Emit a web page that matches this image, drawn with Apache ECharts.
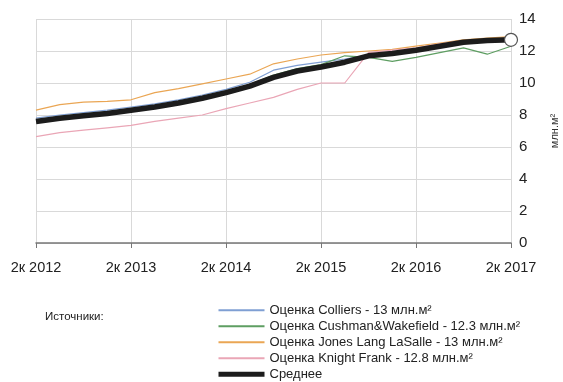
<!DOCTYPE html>
<html>
<head>
<meta charset="utf-8">
<script src="https://cdn.jsdelivr.net/npm/echarts@6/dist/echarts.min.js"></script>
<style>
  html, body { margin: 0; padding: 0; background: #fff; }
  #chart { width: 563px; height: 382px; }
</style>
</head>
<body>
<div id="chart"></div>
<script>
// Quarterly periods, 2Q2012 – 2Q2017
const quarters = [
  '2к 2012', '3к 2012', '4к 2012', '1к 2013', '2к 2013', '3к 2013', '4к 2013',
  '1к 2014', '2к 2014', '3к 2014', '4к 2014', '1к 2015', '2к 2015', '3к 2015',
  '4к 2015', '1к 2016', '2к 2016', '3к 2016', '4к 2016', '1к 2017', '2к 2017'
];

// Estimates of office stock, million m²
const colliers = [7.8, 8.0, 8.15, 8.3, 8.5, 8.7, 8.95, 9.25, 9.6, 10.05, 10.8, 11.1, 11.3, 11.5, 11.75, 11.95, 12.1, 12.35, 12.6, 12.75, 12.85];
const cushman = [7.7, 7.9, 8.05, 8.2, 8.4, 8.6, 8.85, 9.15, 9.5, 9.9, 10.5, 10.9, 11.15, 11.7, 11.6, 11.35, 11.6, 11.9, 12.2, 11.8, 12.3];
const jll = [8.3, 8.65, 8.8, 8.85, 8.95, 9.4, 9.65, 9.95, 10.25, 10.55, 11.2, 11.5, 11.75, 11.9, 12.0, 12.1, 12.3, 12.5, 12.7, 12.8, 12.9];
const knightFrank = [6.65, 6.9, 7.05, 7.2, 7.35, 7.6, 7.8, 8.0, 8.4, 8.75, 9.1, 9.6, 10.0, 10.0, 11.9, 12.05, 12.2, 12.45, 12.65, 12.75, 12.8];
const average = [7.6, 7.8, 7.95, 8.1, 8.3, 8.5, 8.75, 9.05, 9.4, 9.8, 10.35, 10.75, 11.0, 11.3, 11.7, 11.85, 12.05, 12.3, 12.55, 12.65, 12.7];

const seriesNames = [
  'Оценка Colliers - 13 млн.м²',
  'Оценка Cushman&Wakefield - 12.3 млн.м²',
  'Оценка Jones Lang LaSalle - 13 млн.м²',
  'Оценка Knight Frank - 12.8 млн.м²',
  'Среднее'
];

const yTicks = { min: 0, max: 14, interval: 2 };

const font = '"Liberation Sans Narrow", "Liberation Sans", Arial, sans-serif';

function thinLine(name, data, color) {
  return {
    name, type: 'line', data,
    symbol: 'none',
    lineStyle: { color, width: 1.2 },
    itemStyle: { color },
    z: 2
  };
}

const chart = echarts.init(document.getElementById('chart'));
chart.setOption({
  backgroundColor: '#fff',
  animation: false,
  title: {
    text: 'Источники:',
    left: 40, top: 306,
    textStyle: { fontFamily: font, fontSize: 11.5, fontWeight: 'normal', color: '#222' }
  },
  grid: { left: 36, right: 52, top: 19, bottom: 139, containLabel: false, outerBoundsMode: 'none' },
  legend: {
    orient: 'vertical',
    left: 216, top: 302.5,
    padding: 0,
    itemWidth: 46, itemHeight: 11, itemGap: 0.5,
    itemStyle: { opacity: 0 },
    textStyle: { fontFamily: font, fontSize: 13, lineHeight: 15.5, color: '#222' },
    data: seriesNames.map((name, i) =>
      i === seriesNames.length - 1 ? { name, lineStyle: { width: 5 } } : { name })
  },
  xAxis: {
    type: 'category',
    data: quarters,
    boundaryGap: false,
    axisLine: { lineStyle: { color: '#777', width: 1.5 } },
    axisTick: { interval: 3, length: 5, lineStyle: { color: '#777' } },
    axisLabel: { interval: 3, fontFamily: font, fontSize: 14.5, color: '#222', margin: 17 },
    splitLine: { show: true, interval: 3, lineStyle: { color: '#d9d9d9', width: 1 } }
  },
  yAxis: {
    type: 'value',
    position: 'right',
    min: yTicks.min, max: yTicks.max, interval: yTicks.interval,
    name: 'млн.м²',
    nameLocation: 'middle',
    nameGap: 38,
    nameRotate: 90,
    nameTextStyle: { fontFamily: font, fontSize: 11, color: '#333' },
    axisLine: { show: false },
    axisTick: { show: false },
    axisLabel: { fontFamily: font, fontSize: 15, color: '#222', margin: 8 },
    splitLine: { lineStyle: { color: '#d9d9d9', width: 1 } }
  },
  series: [
    thinLine(seriesNames[0], colliers, '#7f9fd3'),
    thinLine(seriesNames[1], cushman, '#5e9e62'),
    thinLine(seriesNames[2], jll, '#eaa654'),
    thinLine(seriesNames[3], knightFrank, '#eaa6b6'),
    {
      name: seriesNames[4], type: 'line', data: average,
      symbol: function (val, params) {
        return params.dataIndex === average.length - 1 ? 'circle' : 'none';
      },
      symbolSize: 13,
      showAllSymbol: true,
      lineStyle: { color: '#1c1c1c', width: 5.5 },
      itemStyle: { color: '#ffffff', borderColor: '#555', borderWidth: 1.2 },
      z: 5
    }
  ]
});
</script>
</body>
</html>
